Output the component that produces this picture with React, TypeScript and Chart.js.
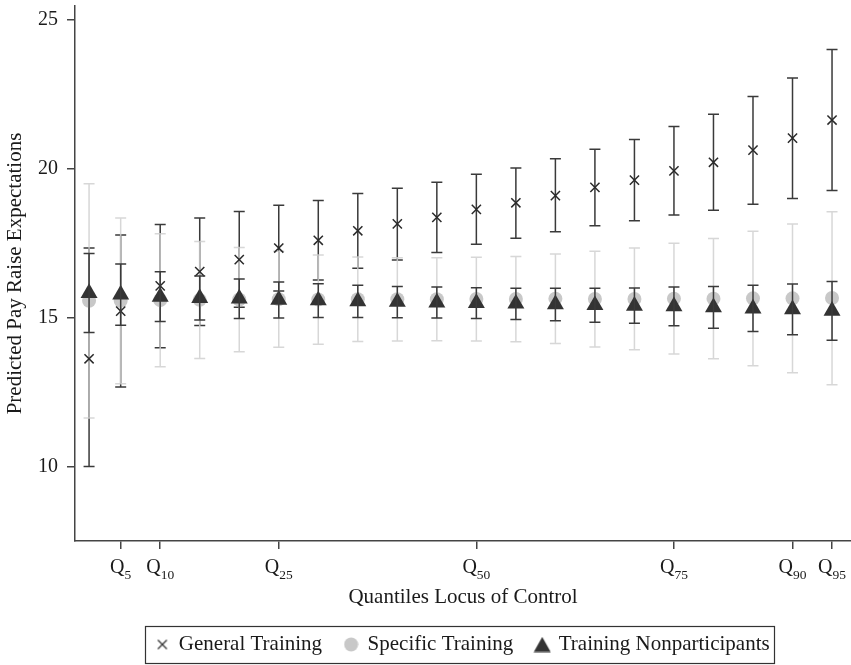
import React, { useEffect, useRef } from 'react';
import { Chart, registerables } from 'chart.js';

Chart.register(...registerables);

// ---- data ----
const quantiles = [1, 5, 10, 15, 20, 25, 30, 35, 40, 45, 50, 55, 60, 65, 70, 75, 80, 85, 90, 95];
const tickQuantiles = [5, 10, 25, 50, 75, 90, 95];
const yTicks = [10, 15, 20, 25];

const general = [13.62, 15.22, 16.07, 16.55, 16.95, 17.34, 17.6, 17.92, 18.15, 18.37, 18.64, 18.86, 19.1, 19.38, 19.62, 19.93, 20.22, 20.63, 21.03, 21.64];
const generalLo = [10.0, 12.67, 13.99, 14.74, 15.35, 15.9, 16.27, 16.66, 16.94, 17.19, 17.47, 17.67, 17.89, 18.09, 18.26, 18.45, 18.61, 18.81, 19.0, 19.27];
const generalHi = [17.34, 17.78, 18.13, 18.35, 18.57, 18.78, 18.94, 19.17, 19.35, 19.55, 19.82, 20.03, 20.34, 20.66, 20.99, 21.42, 21.83, 22.43, 23.05, 24.01];

const specific = [15.57, 15.57, 15.59, 15.6, 15.61, 15.62, 15.61, 15.62, 15.62, 15.62, 15.63, 15.63, 15.64, 15.63, 15.63, 15.64, 15.64, 15.65, 15.65, 15.66];
const specificLo = [11.63, 12.78, 13.35, 13.63, 13.86, 14.01, 14.11, 14.2, 14.22, 14.23, 14.22, 14.19, 14.13, 14.02, 13.92, 13.78, 13.62, 13.39, 13.15, 12.75];
const specificHi = [19.5, 18.35, 17.82, 17.56, 17.36, 17.23, 17.11, 17.04, 17.01, 17.01, 17.03, 17.06, 17.14, 17.23, 17.34, 17.5, 17.66, 17.9, 18.15, 18.56];

const nonpart = [15.83, 15.78, 15.7, 15.66, 15.64, 15.6, 15.58, 15.55, 15.53, 15.51, 15.49, 15.47, 15.45, 15.42, 15.4, 15.38, 15.35, 15.31, 15.28, 15.23];
const nonpartLo = [14.5, 14.75, 14.87, 14.92, 14.97, 14.99, 15.01, 15.01, 15.0, 14.99, 14.97, 14.94, 14.9, 14.85, 14.81, 14.73, 14.65, 14.54, 14.43, 14.24];
const nonpartHi = [17.16, 16.8, 16.54, 16.4, 16.3, 16.2, 16.14, 16.09, 16.05, 16.03, 16.01, 15.99, 15.99, 15.99, 16.0, 16.03, 16.05, 16.09, 16.13, 16.22];

const seriesLabels = ['General Training', 'Specific Training', 'Training Nonparticipants'];

const FONT = "'Liberation Serif', 'Times New Roman', serif";
const TEXT = '#1a1a1a';
const DARK = '#333333';
const LIGHT = '#c8c8c8';

function makeMarker(kind: string): HTMLCanvasElement {
  const c = document.createElement('canvas');
  if (kind === 'x') {
    c.width = 12; c.height = 12;
    const g = c.getContext('2d')!;
    g.strokeStyle = DARK; g.lineWidth = 1.3;
    g.beginPath();
    g.moveTo(1.5, 1.5); g.lineTo(10.5, 10.5);
    g.moveTo(10.5, 1.5); g.lineTo(1.5, 10.5);
    g.stroke();
  } else if (kind === 'circle') {
    c.width = 15; c.height = 15;
    const g = c.getContext('2d')!;
    g.fillStyle = LIGHT;
    g.beginPath(); g.arc(7.5, 7.5, 7, 0, Math.PI * 2); g.fill();
  } else {
    c.width = 18; c.height = 16;
    const g = c.getContext('2d')!;
    g.fillStyle = DARK;
    g.beginPath(); g.moveTo(9, 0.5); g.lineTo(17.5, 15.5); g.lineTo(0.5, 15.5); g.closePath(); g.fill();
  }
  return c;
}

export default function App() {
  const ref = useRef<HTMLCanvasElement>(null);

  useEffect(() => {
    if (!ref.current) return;
    const markers = [makeMarker('x'), makeMarker('circle'), makeMarker('tri')];

    const drawBars = (chart: any, lo: number[], hi: number[], color: string) => {
      const { ctx, scales } = chart;
      const x = scales.x, y = scales.y;
      ctx.save();
      ctx.lineWidth = 1.5;
      ctx.strokeStyle = color;
      quantiles.forEach((q, i) => {
        const px = x.getPixelForValue(q);
        const p1 = y.getPixelForValue(lo[i]);
        const p2 = y.getPixelForValue(hi[i]);
        ctx.beginPath();
        ctx.moveTo(px, p1); ctx.lineTo(px, p2);
        ctx.moveTo(px - 5.5, p1); ctx.lineTo(px + 5.5, p1);
        ctx.moveTo(px - 5.5, p2); ctx.lineTo(px + 5.5, p2);
        ctx.stroke();
      });
      ctx.restore();
    };

    const errorBars = {
      id: 'errorBars',
      beforeDatasetsDraw(chart: any) {
        drawBars(chart, generalLo, generalHi, '#3a3a3a');
        drawBars(chart, specificLo, specificHi, 'rgba(208,208,208,0.85)');
      },
      afterDatasetsDraw(chart: any) {
        drawBars(chart, nonpartLo, nonpartHi, '#3a3a3a');
      },
    };

    const extras = {
      id: 'extras',
      afterDraw(chart: any) {
        const { ctx } = chart;
        const x = chart.scales.x;
        ctx.save();
        ctx.fillStyle = TEXT;
        ctx.textBaseline = 'alphabetic';
        ctx.textAlign = 'left';
        tickQuantiles.forEach((v) => {
          const px = x.getPixelForValue(v);
          ctx.font = `20px ${FONT}`;
          const wq = ctx.measureText('Q').width;
          ctx.font = `13.5px ${FONT}`;
          const ws = ctx.measureText(String(v)).width;
          const start = px - (wq + ws) / 2;
          ctx.font = `20px ${FONT}`;
          ctx.fillText('Q', start, x.top + 32);
          ctx.font = `13.5px ${FONT}`;
          ctx.fillText(String(v), start + wq, x.top + 38);
        });
        // legend frame
        const hb = chart.legend?.legendHitBoxes;
        if (hb && hb.length) {
          const left = hb[0].left - 11;
          const last = hb[hb.length - 1];
          const right = last.left + last.width + 5;
          const cy = hb[0].top + hb[0].height / 2;
          ctx.strokeStyle = DARK;
          ctx.lineWidth = 1.2;
          ctx.strokeRect(Math.round(left) + 0.5, Math.round(cy - 18.5) + 0.5, Math.round(right - left), 37);
        }
        ctx.restore();
      },
    };

    const toPts = (ys: number[]) => quantiles.map((q, i) => ({ x: q, y: ys[i] }));

    const chart = new Chart(ref.current, {
      type: 'scatter',
      data: {
        datasets: [
          {
            label: seriesLabels[0],
            data: toPts(general),
            pointStyle: 'crossRot',
            pointRadius: 6.5,
            pointBorderWidth: 1.5,
            borderColor: '#2a2a2a',
            backgroundColor: '#2a2a2a',
            pointBorderColor: '#2a2a2a',
            order: 0,
          },
          {
            label: seriesLabels[1],
            data: toPts(specific),
            pointStyle: 'circle',
            pointRadius: 7,
            pointBorderWidth: 0,
            backgroundColor: LIGHT,
            borderColor: LIGHT,
            pointBackgroundColor: LIGHT,
            order: 2,
          },
          {
            label: seriesLabels[2],
            data: toPts(nonpart),
            pointStyle: 'triangle',
            pointRadius: 9.8,
            pointBorderWidth: 0,
            backgroundColor: DARK,
            borderColor: DARK,
            pointBackgroundColor: DARK,
            order: 1,
          },
        ],
      } as any,
      options: {
        responsive: false,
        animation: false,
        events: [],
        layout: { autoPadding: false, padding: { top: 6, left: 0, right: 0, bottom: 0 } },
        scales: {
          x: {
            type: 'linear',
            min: -0.78,
            max: 97.4,
            afterBuildTicks: (s: any) => { s.ticks = tickQuantiles.map((v) => ({ value: v })); },
            afterFit: (s: any) => { s.height = 70; s.paddingLeft = 0; s.paddingRight = 0; },
            ticks: { autoSkip: false, callback: () => '', font: { size: 20, family: FONT } },
            grid: { display: true, drawOnChartArea: false, drawTicks: true, tickLength: 8, color: '#444', lineWidth: 1.5 },
            border: { display: true, color: '#444', width: 1.5 },
            title: {
              display: true,
              text: 'Quantiles Locus of Control',
              color: TEXT,
              font: { size: 21, family: FONT },
              padding: { top: 0, bottom: 1 },
            },
          },
          y: {
            type: 'linear',
            min: 7.5,
            max: 25.47,
            afterBuildTicks: (s: any) => { s.ticks = yTicks.map((v) => ({ value: v })); },
            afterFit: (s: any) => { s.width = 75; s.paddingTop = 0; s.paddingBottom = 0; },
            ticks: { color: TEXT, padding: 9, font: { size: 20, family: FONT } },
            grid: { display: true, drawOnChartArea: false, drawTicks: true, tickLength: 8, color: '#444', lineWidth: 1.5 },
            border: { display: true, color: '#444', width: 1.5 },
            title: {
              display: true,
              text: 'Predicted Pay Raise Expectations',
              color: TEXT,
              font: { size: 21, family: FONT },
              padding: { top: 3, bottom: 0 },
            },
          },
        },
        plugins: {
          tooltip: { enabled: false },
          legend: {
            display: true,
            position: 'bottom',
            fullSize: false,
            labels: {
              usePointStyle: true,
              boxWidth: 12,
              boxHeight: 12,
              padding: 23,
              color: TEXT,
              font: { size: 21, family: FONT },
              generateLabels: () =>
                seriesLabels.map((t, i) => ({
                  text: t,
                  pointStyle: markers[i],
                  fillStyle: i === 1 ? LIGHT : DARK,
                  strokeStyle: i === 1 ? LIGHT : DARK,
                  lineWidth: 0,
                  hidden: false,
                  datasetIndex: i,
                  fontColor: TEXT,
                })),
            },
          },
        },
      } as any,
      plugins: [errorBars, extras],
    });

    return () => chart.destroy();
  }, []);

  return (
    <div>
      <canvas
        ref={ref}
        width={851}
        height={665}
        style={{ position: 'fixed', left: 0, top: 0, display: 'block', background: '#fff' }}
      />
    </div>
  );
}
